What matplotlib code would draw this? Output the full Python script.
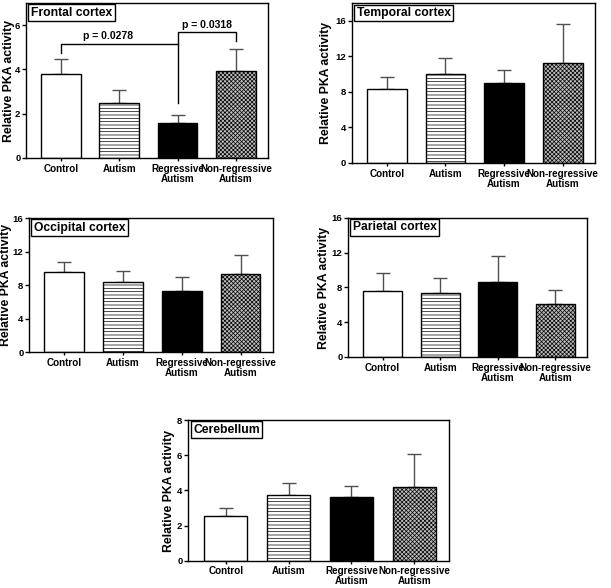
import numpy as np
import matplotlib
matplotlib.use("Agg")
from matplotlib import pyplot as plt

plt.rcParams["font.family"] = ["Liberation Sans", "DejaVu Sans"]
plt.rcParams["font.weight"] = "bold"
plt.rcParams["hatch.linewidth"] = 0.5

groups = ["Control", "Autism", "Regressive\nAutism", "Non-regressive\nAutism"]

frontal_mean = [3.8, 2.5, 1.6, 3.93]
frontal_top = [4.45, 3.05, 1.92, 4.93]
temporal_mean = [8.3, 10.0, 8.95, 11.3]
temporal_top = [9.7, 11.8, 10.5, 15.6]
occipital_mean = [9.6, 8.4, 7.3, 9.4]
occipital_top = [10.75, 9.7, 8.95, 11.6]
parietal_mean = [7.65, 7.35, 8.65, 6.05]
parietal_top = [9.7, 9.05, 11.6, 7.75]
cerebellum_mean = [2.55, 3.75, 3.6, 4.22]
cerebellum_top = [2.98, 4.43, 4.28, 6.1]

fills = ["white", "white", "black", "#bdbdbd"]
hatches = ["", "-----", "", "xxxxxxxx"]


def draw_panel(ax, title, mean, top, ymax, ystep, label_x):
    x = np.arange(len(groups))
    err = np.array(top) - np.array(mean)
    ax.errorbar(x, mean, yerr=[np.zeros_like(err), err], fmt="none",
                ecolor="#505050", elinewidth=1.0, capsize=5, capthick=1.0, zorder=1)
    for i in range(len(groups)):
        ax.bar(x[i], mean[i], width=0.68, color=fills[i], edgecolor="black",
               hatch=hatches[i], linewidth=1.0, zorder=2)
    ax.set_xlim(-0.6, 3.55)
    ax.set_ylim(0, ymax)
    ax.set_yticks(np.arange(0, ymax + 0.01, ystep))
    ax.set_xticks(x)
    ax.set_xticklabels(groups, fontsize=7.1, fontweight="bold", linespacing=1.0)
    ax.tick_params(axis="y", labelsize=6.8, length=3, width=1, pad=1)
    ax.tick_params(axis="x", length=2, width=1, pad=2)
    for s in ax.spines.values():
        s.set_linewidth(1.0)
    ax.set_ylabel("Relative PKA activity", fontsize=8.8, fontweight="bold")
    # label anchor is the right-hand edge of the rotated text
    ax.yaxis.set_label_coords(label_x, 0.5)
    ax.text(0.02, 0.975, title, transform=ax.transAxes, ha="left", va="top",
            fontsize=8.7, fontweight="bold",
            bbox=dict(boxstyle="square,pad=0.2", facecolor="white",
                      edgecolor="black", linewidth=1.0))


fig = plt.figure(figsize=(6.11, 5.88), dpi=100)

ax1 = fig.add_axes([0.0426, 0.7313, 0.396, 0.2636])
draw_panel(ax1, "Frontal cortex", frontal_mean, frontal_top, 7, 2, -0.045)
ax1.set_yticks([0, 2, 4, 6])
# significance brackets
ax1.plot([0, 0, 2, 2], [4.75, 5.17, 5.17, 2.5], color="black", lw=1.0)
ax1.plot([2, 2, 3, 3], [5.17, 5.68, 5.68, 5.28], color="black", lw=1.0)
ax1.text(0.8, 5.3, "p = 0.0278", ha="center", va="bottom", fontsize=7.5, fontweight="bold")
ax1.text(2.5, 5.8, "p = 0.0318", ha="center", va="bottom", fontsize=7.5, fontweight="bold")

ax2 = fig.add_axes([0.5756, 0.7228, 0.398, 0.272])
draw_panel(ax2, "Temporal cortex", temporal_mean, temporal_top, 18, 4, -0.082)
ax2.set_yticks([0, 4, 8, 12, 16])

ax3 = fig.add_axes([0.0475, 0.4009, 0.399, 0.228])
draw_panel(ax3, "Occipital cortex", occipital_mean, occipital_top, 16, 4, -0.068)

ax4 = fig.add_axes([0.5696, 0.3929, 0.391, 0.2364])
draw_panel(ax4, "Parietal cortex", parietal_mean, parietal_top, 16, 4, -0.075)

ax5 = fig.add_axes([0.3077, 0.0464, 0.427, 0.239])
draw_panel(ax5, "Cerebellum", cerebellum_mean, cerebellum_top, 8, 2, -0.05)

fig.savefig("out.png", dpi=100)
